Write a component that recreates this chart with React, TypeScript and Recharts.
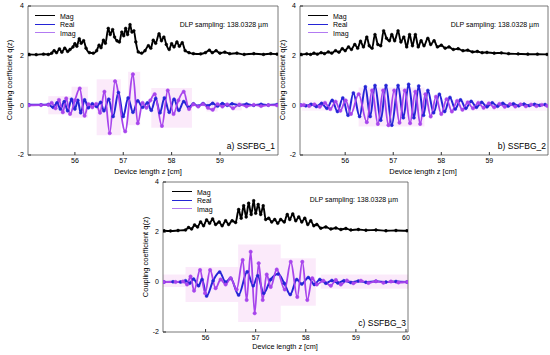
import React from "react";
import { LineChart, Line, XAxis, YAxis, ReferenceArea } from "recharts";

type Pt = [number, number];

const FONT = '"Liberation Sans", Arial, sans-serif';
const MAG = "#000000";
const REAL = "#2424d6";
const IMAG = "#a745ec";

const yTicks = [-2, 0, 2, 4];
const zTicksAB = [56, 57, 58, 59];
const zTicksC = [56, 57, 58, 59, 60];
const seriesNames = ["Mag", "Real", "Imag"];
const panelTags = ["a) SSFBG_1", "b) SSFBG_2", "c) SSFBG_3"];
const samplingNote = "DLP sampling: 138.0328 µm";
const xTitle = "Device length z [cm]";
const yTitle = "Coupling coefficient q(z)";

// panel a) SSFBG_1
const magA: Pt[] = [
  [55.05, 2.05], [55.2, 2.04], [55.35, 2.06], [55.45, 2.05], [55.52, 2.1], [55.57, 2.2],
  [55.62, 2.12], [55.68, 2.27], [55.73, 2.14], [55.79, 2.3], [55.85, 2.17], [55.9, 2.25],
  [55.96, 2.35], [56.0, 2.48], [56.04, 2.38], [56.09, 2.68], [56.13, 2.5], [56.18, 2.6],
  [56.23, 2.3], [56.3, 2.12], [56.38, 2.1], [56.45, 2.2], [56.5, 2.42], [56.54, 2.32],
  [56.59, 2.62], [56.63, 2.5], [56.69, 3.1], [56.73, 2.85], [56.78, 3.05], [56.82, 2.75],
  [56.87, 2.6], [56.92, 2.55], [56.97, 2.95], [57.01, 2.8], [57.05, 3.1], [57.09, 2.85],
  [57.14, 3.25], [57.18, 2.95], [57.22, 3.0], [57.26, 2.55], [57.31, 2.15], [57.38, 2.1],
  [57.45, 2.2], [57.52, 2.4], [57.57, 2.3], [57.62, 2.62], [57.67, 2.5], [57.74, 2.88],
  [57.79, 2.6], [57.84, 2.75], [57.89, 2.45], [57.95, 2.25], [58.0, 2.48], [58.05, 2.35],
  [58.11, 2.55], [58.16, 2.38], [58.22, 2.52], [58.28, 2.2], [58.36, 2.12], [58.45, 2.08],
  [58.6, 2.07], [58.7, 2.12], [58.78, 2.22], [58.84, 2.12], [58.92, 2.2], [59.0, 2.1],
  [59.1, 2.14], [59.2, 2.08], [59.35, 2.1], [59.5, 2.05], [59.7, 2.08], [59.9, 2.05],
  [60.05, 2.08], [60.18, 2.06],
];
const realA: Pt[] = [
  [55.05, 0.02], [55.3, 0.02], [55.45, 0.03], [55.55, -0.08], [55.63, 0.1], [55.7, -0.15],
  [55.78, 0.15], [55.85, -0.22], [55.93, 0.25], [56.0, -0.15], [56.06, 0.2], [56.12, -0.3],
  [56.2, 0.22], [56.28, -0.1], [56.36, 0.06], [56.45, -0.05], [56.53, 0.12], [56.6, -0.22],
  [56.7, 0.25], [56.79, -0.45], [56.9, 0.52], [57.0, -0.45], [57.1, 0.3], [57.2, -0.28],
  [57.3, 0.18], [57.4, -0.08], [57.5, 0.1], [57.58, -0.2], [57.67, 0.28], [57.76, -0.3],
  [57.85, 0.3], [57.95, -0.28], [58.05, 0.25], [58.15, -0.2], [58.25, 0.15], [58.35, -0.08],
  [58.45, 0.06], [58.55, -0.03], [58.65, 0.07], [58.75, -0.02], [58.85, 0.08], [58.95, -0.03],
  [59.05, 0.07], [59.15, 0.0], [59.25, 0.06], [59.4, 0.01], [59.55, 0.05], [59.7, 0.0],
  [59.85, 0.04], [60.0, 0.01], [60.18, 0.03],
];
const imagA: Pt[] = [
  [55.05, 0.0], [55.3, 0.01], [55.45, 0.02], [55.52, 0.1], [55.6, -0.12], [55.67, 0.22],
  [55.75, -0.28], [55.82, 0.28], [55.9, -0.35], [56.0, 0.2], [56.1, 0.68], [56.2, -0.42],
  [56.28, 0.05], [56.36, -0.08], [56.44, 0.06], [56.52, -0.3], [56.61, 0.55], [56.72, -1.12],
  [56.83, 0.97], [57.04, -1.05], [57.2, 1.25], [57.3, -0.72], [57.4, 0.1], [57.48, -0.1],
  [57.56, 0.2], [57.65, 0.45], [57.8, -0.83], [57.92, 0.6], [58.04, -0.35], [58.14, 0.2],
  [58.25, 0.55], [58.36, -0.15], [58.45, 0.04], [58.55, -0.05], [58.65, 0.05], [58.75, -0.1],
  [58.85, -0.18], [58.95, 0.05], [59.05, -0.05], [59.15, 0.04], [59.27, -0.12], [59.4, 0.03],
  [59.55, -0.04], [59.7, 0.02], [59.85, -0.03], [60.0, 0.01], [60.18, 0.0],
];
const shadesA: number[][] = [
  [55.45, 55.93, -0.36, 0.37], [55.93, 56.27, -0.5, 0.75], [56.45, 56.95, -1.2, 1.05],
  [57.1, 57.35, -0.8, 1.35], [57.58, 58.42, -0.9, 0.7], [58.72, 58.95, -0.25, 0.2],
  [59.25, 59.45, -0.2, 0.15],
];

// panel b) SSFBG_2
const magB: Pt[] = [
  [55.08, 2.05], [55.2, 2.07], [55.28, 2.05], [55.35, 2.1], [55.42, 2.06], [55.5, 2.12],
  [55.57, 2.08], [55.65, 2.15], [55.72, 2.1], [55.8, 2.2], [55.87, 2.14], [55.94, 2.28],
  [56.0, 2.2], [56.07, 2.35], [56.13, 2.25], [56.2, 2.45], [56.26, 2.3], [56.32, 2.58],
  [56.38, 2.35], [56.45, 2.75], [56.5, 2.4], [56.56, 2.3], [56.62, 2.85], [56.68, 2.45],
  [56.74, 2.4], [56.8, 3.0], [56.86, 2.7], [56.92, 2.6], [56.97, 2.85], [57.03, 2.6],
  [57.1, 3.0], [57.16, 2.55], [57.22, 2.75], [57.28, 2.35], [57.34, 2.85], [57.4, 2.4],
  [57.46, 2.85], [57.52, 2.35], [57.58, 2.6], [57.64, 2.4], [57.72, 2.7], [57.78, 2.45],
  [57.85, 2.6], [57.92, 2.35], [58.0, 2.42], [58.08, 2.3], [58.16, 2.35], [58.25, 2.25],
  [58.35, 2.28], [58.45, 2.2], [58.55, 2.22], [58.65, 2.15], [58.75, 2.17], [58.85, 2.12],
  [58.95, 2.13], [59.1, 2.1], [59.25, 2.11], [59.4, 2.08], [59.6, 2.07], [59.8, 2.06],
  [60.0, 2.06], [60.2, 2.05],
];
const realB: Pt[] = [
  [55.08, 0.01], [55.18, -0.02], [55.29, 0.04], [55.4, -0.05], [55.51, 0.08], [55.62, -0.12],
  [55.73, 0.2], [55.84, -0.25], [55.95, 0.3], [56.06, -0.4], [56.17, 0.5], [56.3, -0.45],
  [56.42, 0.75], [56.52, -0.45], [56.62, 0.8], [56.74, -0.6], [56.85, 0.8], [56.97, -0.8],
  [57.1, 0.8], [57.21, -0.5], [57.32, 0.85], [57.43, -0.5], [57.53, 0.78], [57.63, -0.4],
  [57.72, 0.6], [57.84, -0.3], [57.96, 0.45], [58.07, -0.25], [58.18, 0.32], [58.29, -0.15],
  [58.4, 0.22], [58.51, -0.12], [58.62, 0.16], [58.73, -0.08], [58.84, 0.12], [58.95, -0.06],
  [59.06, 0.1], [59.17, -0.04], [59.28, 0.08], [59.39, -0.03], [59.5, 0.06], [59.61, -0.02],
  [59.72, 0.05], [59.83, -0.01], [59.94, 0.04], [60.05, 0.0], [60.16, 0.03],
];
const imagB: Pt[] = [
  [55.08, 0.0], [55.14, 0.02], [55.25, -0.03], [55.36, 0.04], [55.47, -0.06], [55.58, 0.1],
  [55.69, -0.15], [55.8, 0.15], [55.9, -0.22], [56.01, 0.2], [56.12, -0.35], [56.28, 0.45],
  [56.45, -0.68], [56.56, 0.6], [56.68, -0.75], [56.79, 0.6], [56.9, -0.8], [57.02, 0.6],
  [57.13, -0.7], [57.24, 0.6], [57.35, -0.72], [57.46, 0.55], [57.56, -0.75], [57.67, 0.45],
  [57.78, -0.45], [57.89, 0.35], [58.0, -0.35], [58.11, 0.25], [58.22, -0.25], [58.33, 0.18],
  [58.44, -0.18], [58.55, 0.12], [58.66, -0.12], [58.77, 0.1], [58.88, -0.1], [58.99, 0.08],
  [59.1, -0.08], [59.21, 0.06], [59.32, -0.06], [59.43, 0.05], [59.54, -0.05], [59.65, 0.04],
  [59.76, -0.04], [59.87, 0.03], [59.98, -0.03], [60.09, 0.02], [60.2, -0.02],
];
const shadesB: number[][] = [
  [55.1, 60.2, -0.22, 0.2], [56.28, 57.65, -0.85, 0.72],
];

// panel c) SSFBG_3
const magC: Pt[] = [
  [55.17, 2.05], [55.3, 2.04], [55.45, 2.06], [55.6, 2.08], [55.66, 2.18], [55.72, 2.12],
  [55.78, 2.28], [55.84, 2.2], [55.9, 2.4], [55.96, 2.25], [56.02, 2.48], [56.08, 2.35],
  [56.14, 2.52], [56.2, 2.3], [56.27, 2.4], [56.33, 2.25], [56.4, 2.45], [56.46, 2.3],
  [56.53, 2.45], [56.6, 2.38], [56.66, 2.9], [56.71, 2.55], [56.76, 3.05], [56.81, 2.6],
  [56.86, 3.15], [56.91, 2.7], [56.96, 3.25], [57.0, 2.75], [57.05, 3.1], [57.1, 2.7],
  [57.15, 3.05], [57.2, 2.5], [57.26, 2.55], [57.32, 2.4], [57.38, 2.5], [57.44, 2.35],
  [57.5, 2.5], [57.57, 2.4], [57.63, 2.7], [57.68, 2.5], [57.74, 2.72], [57.8, 2.45],
  [57.86, 2.6], [57.92, 2.4], [57.98, 2.55], [58.04, 2.3], [58.1, 2.45], [58.16, 2.25],
  [58.22, 2.3], [58.3, 2.15], [58.4, 2.2], [58.5, 2.12], [58.6, 2.16], [58.7, 2.1],
  [58.8, 2.14], [58.9, 2.08], [59.05, 2.1], [59.2, 2.07], [59.4, 2.08], [59.6, 2.05],
  [59.8, 2.06], [60.02, 2.05],
];
const realC: Pt[] = [
  [55.17, 0.0], [55.35, 0.01], [55.5, 0.0], [55.6, 0.05], [55.68, -0.05], [55.76, 0.12],
  [55.86, -0.15], [55.93, 0.1], [56.02, -0.56], [56.15, 0.05], [56.28, 0.4], [56.4, 0.0],
  [56.5, 0.15], [56.66, -0.52], [56.83, 0.41], [56.95, -0.15], [57.04, 0.25], [57.16, -0.45],
  [57.3, 0.1], [57.45, 0.32], [57.57, -0.05], [57.69, -0.5], [57.82, 0.1], [57.92, -0.08],
  [58.05, 0.18], [58.17, -0.1], [58.28, 0.1], [58.4, -0.05], [58.52, 0.06], [58.64, -0.04],
  [58.76, 0.05], [58.9, -0.02], [59.05, 0.04], [59.2, -0.01], [59.4, 0.03], [59.6, 0.0],
  [59.8, 0.02], [60.02, 0.0],
];
const imagC: Pt[] = [
  [55.17, 0.0], [55.4, 0.0], [55.55, 0.02], [55.63, -0.1], [55.7, 0.22], [55.77, -0.35],
  [55.89, 0.48], [55.99, -0.45], [56.09, 0.48], [56.2, -0.25], [56.3, 0.1], [56.4, -0.1],
  [56.5, 0.15], [56.62, -0.3], [56.74, 0.88], [56.82, -0.72], [56.9, 1.21], [56.98, -1.25],
  [57.06, 0.75], [57.14, -0.72], [57.22, 0.3], [57.3, -0.2], [57.42, 0.5], [57.58, -0.3],
  [57.7, 0.81], [57.83, -0.6], [57.93, 0.81], [58.03, -0.72], [58.13, 0.15], [58.22, -0.1],
  [58.35, 0.05], [58.5, -0.15], [58.6, 0.08], [58.7, -0.1], [58.82, 0.06], [58.95, -0.05],
  [59.1, 0.05], [59.25, -0.04], [59.4, 0.03], [59.55, -0.03], [59.7, 0.02], [59.85, -0.02],
  [60.02, 0.0],
];
const shadesC: number[][] = [
  [55.15, 55.6, -0.2, 0.3], [55.6, 56.65, -0.8, 0.6], [56.65, 57.5, -1.6, 1.5],
  [57.5, 58.2, -0.95, 0.95], [58.3, 60.04, -0.27, 0.3],
];

const toRows = (arr: Pt[]) => arr.map(([z, v]) => ({ z, v }));

function Txt({ x, y, size = 7.5, align = "center", rotate = false, children }: any) {
  const tx = align === "center" ? "-50%" : align === "right" ? "-100%" : "0";
  return (
    <div
      style={{
        position: "absolute",
        left: x,
        top: y,
        fontSize: size,
        fontFamily: FONT,
        lineHeight: 1,
        whiteSpace: "nowrap",
        color: "#000",
        transform: `translate(${tx}, -50%)${rotate ? " rotate(-90deg)" : ""}`,
      }}
    >
      {children}
    </div>
  );
}

function Legend({ x, y }: { x: number; y: number }) {
  const colors = [MAG, REAL, "#b27af2"];
  return (
    <>
      {seriesNames.map((name, i) => (
        <React.Fragment key={name}>
          <div
            style={{
              position: "absolute",
              left: x,
              top: y + i * 8.5,
              width: 20,
              height: 1.2,
              background: colors[i],
            }}
          />
          <Txt x={x + 25} y={y + i * 8.5 + 0.5} size={7} align="left">
            {name}
          </Txt>
        </React.Fragment>
      ))}
    </>
  );
}

function Panel({ left, top, width, height, domain, ticks, mag, real, imag, shades }: any) {
  const tickFont = { fontSize: 7, fill: "#000", fontFamily: FONT };
  const dot = (c: string, r: number) => ({ r, fill: c, stroke: c, strokeWidth: 0.5 });
  return (
    <div style={{ position: "absolute", left, top }}>
      <LineChart width={width} height={height} margin={{ top: 6, right: 2, bottom: 0, left: 4 }}>
        <XAxis
          dataKey="z"
          type="number"
          domain={domain}
          ticks={ticks}
          interval={0}
          allowDataOverflow
          height={14}
          axisLine={false}
          tickSize={-3}
          tickMargin={6}
          tick={tickFont}
          tickLine={{ stroke: "#333" }}
        />
        <YAxis
          type="number"
          domain={[-2, 4]}
          ticks={yTicks}
          interval={0}
          width={24}
          axisLine={false}
          tickSize={-3}
          tickMargin={7}
          tick={tickFont}
          tickLine={{ stroke: "#333" }}
        />
        {shades.map((s: number[], i: number) => (
          <ReferenceArea
            key={i}
            x1={s[0]}
            x2={s[1]}
            y1={s[2]}
            y2={s[3]}
            fill="#f3b8ef"
            fillOpacity={i === 0 && shades.length === 2 ? 0.2 : 0.3}
            stroke="none"
          />
        ))}
        <ReferenceArea
          x1={domain[0]}
          x2={domain[1]}
          y1={-2}
          y2={4}
          fill="none"
          stroke="#555"
          strokeWidth={0.8}
        />
        <Line data={toRows(mag)} dataKey="v" type="monotone" stroke={MAG} strokeWidth={1.9} dot={dot(MAG, 1.4)} isAnimationActive={false} />
        <Line data={toRows(real)} dataKey="v" type="monotone" stroke={REAL} strokeWidth={2} dot={dot(REAL, 1.5)} isAnimationActive={false} />
        <Line data={toRows(imag)} dataKey="v" type="monotone" stroke={IMAG} strokeWidth={1.8} dot={dot(IMAG, 1.7)} isAnimationActive={false} />
      </LineChart>
    </div>
  );
}

export default function App() {
  return (
    <div style={{ position: "absolute", left: 0, top: 0, width: 550, height: 355, background: "#fff", overflow: "hidden" }}>
      <Panel left={0} top={0} width={280} height={169} domain={[55.03, 60.2]} ticks={zTicksAB} mag={magA} real={realA} imag={imagA} shades={shadesA} />
      <Panel left={272} top={0} width={278} height={169} domain={[55.06, 60.22]} ticks={zTicksAB} mag={magB} real={realB} imag={imagB} shades={shadesB} />
      <Panel left={135} top={176} width={275} height={170} domain={[55.15, 60.04]} ticks={zTicksC} mag={magC} real={realC} imag={imagC} shades={shadesC} />

      <Legend x={35} y={15} />
      <Legend x={308} y={15} />
      <Legend x={172} y={191} />

      <Txt x={268} y={24} size={7} align="right">{samplingNote}</Txt>
      <Txt x={539} y={24} size={7} align="right">{samplingNote}</Txt>
      <Txt x={398} y={199} size={7} align="right">{samplingNote}</Txt>

      <Txt x={275} y={146} size={8.5} align="right">{panelTags[0]}</Txt>
      <Txt x={546} y={146} size={8.5} align="right">{panelTags[1]}</Txt>
      <Txt x={406} y={323} size={8.5} align="right">{panelTags[2]}</Txt>

      <Txt x={148} y={172}>{xTitle}</Txt>
      <Txt x={423} y={172}>{xTitle}</Txt>
      <Txt x={285} y={347} size={7.3}>{xTitle}</Txt>

      <Txt x={10} y={80} rotate>{yTitle}</Txt>
      <Txt x={283} y={80} rotate>{yTitle}</Txt>
      <Txt x={146} y={257} rotate>{yTitle}</Txt>
    </div>
  );
}
